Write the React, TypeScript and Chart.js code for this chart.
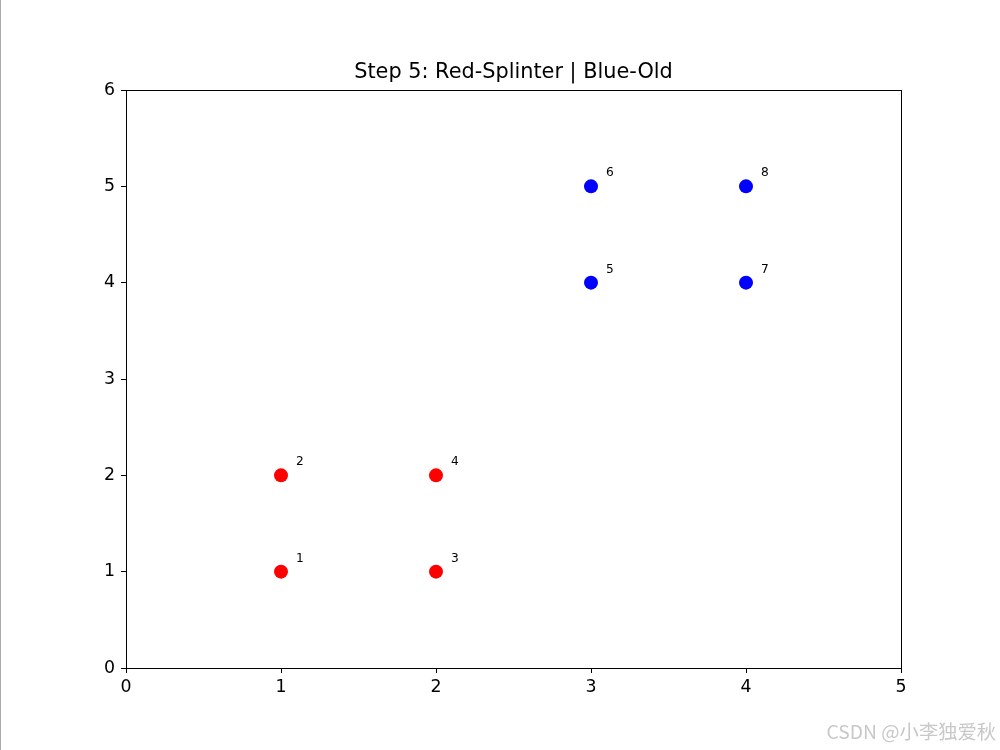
import React, { useEffect, useRef } from "react";
import { Chart, registerables } from "chart.js";
Chart.register(...registerables);

const titleText = "Step 5: Red-Splinter | Blue-Old";
const watermark = "CSDN @小李独爱秋";
const redX = [1, 1, 2, 2];
const redY = [1, 2, 1, 2];
const redLabels = ["1", "2", "3", "4"];
const blueX = [3, 3, 4, 4];
const blueY = [4, 5, 4, 5];
const blueLabels = ["5", "6", "7", "8"];
const xTicks = [0, 1, 2, 3, 4, 5];
const yTicks = [0, 1, 2, 3, 4, 5, 6];

export default function App() {
  const ref = useRef<HTMLCanvasElement>(null);
  useEffect(() => {
    const extras = {
      id: "extras",
      afterDraw(chart: any) {
        const ctx = chart.ctx;
        const a = chart.chartArea;
        ctx.save();
        // frame
        ctx.strokeStyle = "#000";
        ctx.lineWidth = 1;
        ctx.strokeRect(Math.round(a.left) + 0.5, Math.round(a.top) + 0.5, Math.round(a.right - a.left), Math.round(a.bottom - a.top));
        // left gray line
        ctx.strokeStyle = "#aaaaaa";
        ctx.beginPath();
        ctx.moveTo(0.5, 0);
        ctx.lineTo(0.5, 750);
        ctx.stroke();
        // title
        ctx.fillStyle = "#000";
        ctx.font = "20.83px 'DejaVu Sans'";
        ctx.textAlign = "center";
        ctx.textBaseline = "middle";
        ctx.fillText(titleText, (a.left + a.right) / 2, 73);
        // point labels
        ctx.font = "12.2px 'DejaVu Sans'";
        ctx.textAlign = "left";
        chart.data.datasets.forEach((ds: any, di: number) => {
          const meta = chart.getDatasetMeta(di);
          meta.data.forEach((el: any, i: number) => {
            ctx.fillText(ds.labelsText[i], el.x + 15, el.y - 13);
          });
        });
        // watermark
        ctx.font = "19.3px 'Noto Sans CJK SC'";
        ctx.textAlign = "right";
        ctx.fillStyle = "#c8c8c8";
        ctx.fillText(watermark, 996, 732);
        ctx.restore();
      },
    };
    const chart = new Chart(ref.current!, {
      type: "scatter",
      data: {
        datasets: [
          {
            data: redX.map((x, i) => ({ x, y: redY[i] })),
            backgroundColor: "#ff0000",
            borderColor: "#ff0000",
            pointRadius: 7,
            pointBorderWidth: 0,
            labelsText: redLabels,
          } as any,
          {
            data: blueX.map((x, i) => ({ x, y: blueY[i] })),
            backgroundColor: "#0000ff",
            borderColor: "#0000ff",
            pointRadius: 7,
            pointBorderWidth: 0,
            labelsText: blueLabels,
          } as any,
        ],
      },
      options: {
        animation: false,
        responsive: false,
        layout: { padding: { top: 90, right: 99, left: 0, bottom: 0 } },
        plugins: { legend: { display: false }, tooltip: { enabled: false }, title: { display: false } },
        scales: {
          x: {
            type: "linear",
            min: 0,
            max: 5,
            afterFit: (s: any) => { s.height = 82; },
            afterBuildTicks: (s: any) => { s.ticks = xTicks.map((v) => ({ value: v })); },
            grid: { drawOnChartArea: false, drawTicks: true, tickLength: 5, tickColor: "#000" },
            border: { display: true, color: "#000" },
            ticks: { color: "#000", font: { family: "'DejaVu Sans'", size: 17.36 }, padding: 4 },
          },
          y: {
            type: "linear",
            min: 0,
            max: 6,
            afterFit: (s: any) => { s.width = 126; },
            afterBuildTicks: (s: any) => { s.ticks = yTicks.map((v) => ({ value: v })); },
            grid: { drawOnChartArea: false, drawTicks: true, tickLength: 5, tickColor: "#000" },
            border: { display: true, color: "#000" },
            ticks: { color: "#000", font: { family: "'DejaVu Sans'", size: 17.36 }, padding: 6 },
          },
        },
      },
      plugins: [extras],
    });
    return () => chart.destroy();
  }, []);
  return (
    <div style={{ position: "absolute", left: 0, top: 0, width: 1000, height: 750, background: "#fff" }}>
      <canvas ref={ref} width={1000} height={750} style={{ display: "block" }} />
    </div>
  );
}
